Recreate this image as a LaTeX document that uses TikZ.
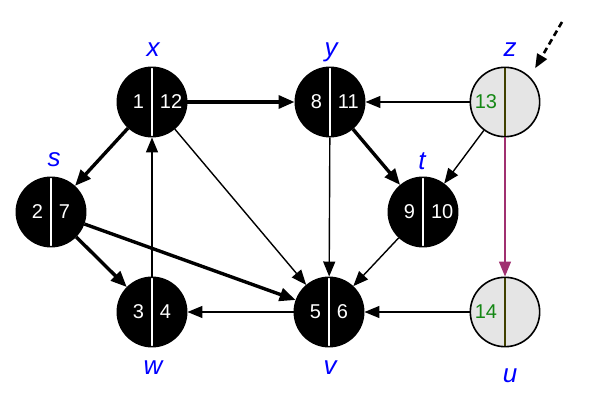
\documentclass[tikz,border=0pt]{standalone}
\usepackage{fontspec}
\setmainfont{Liberation Sans}
\usetikzlibrary{arrows.meta,positioning}
\definecolor{edgeplum}{RGB}{160,48,112}
\definecolor{numgreen}{RGB}{20,135,20}
\definecolor{splitolive}{RGB}{64,64,0}
\newcommand{\nums}[2]{\raisebox{-2.5pt}{\makebox[26pt][r]{#1}\hspace{16pt}\makebox[26pt][l]{#2}}}
\tikzset{
  vtx/.style={circle, draw=black, fill=black, line width=1.6pt, minimum size=67pt,
    inner sep=0pt, text=white, font=\fontsize{20}{20}\selectfont,
    path picture={\draw[white, line width=1.8pt] (path picture bounding box.north) -- (path picture bounding box.south);}},
  open/.style={vtx, fill=black!10, text=numgreen,
    path picture={\draw[splitolive, line width=1.8pt] (path picture bounding box.north) -- (path picture bounding box.south);}},
  lbl/.style={inner sep=0pt, anchor=base, text=blue,
    font=\fontsize{26}{26}\selectfont\itshape},
  fine/.style={-{Triangle[length=15pt,width=12pt]}, line width=1.4pt},
  heavy/.style={-{Triangle[length=16pt,width=13pt]}, line width=3.4pt},
}
\begin{document}
\begin{tikzpicture}[x=1pt, y=-1pt]
  \useasboundingbox (0,0) rectangle (616,403);
  % vertices
  \node[vtx]  (x) at (152,102) {\nums{1}{12}};
  \node[vtx]  (y) at (330,102) {\nums{8}{11}};
  \node[open] (z) at (505,102) {\nums{13}{}};
  \node[vtx]  (s) at (51,212)  {\nums{2}{7}};
  \node[vtx]  (t) at (423,212) {\nums{9}{10}};
  \node[vtx]  (w) at (152,312) {\nums{3}{4}};
  \node[vtx]  (v) at (329,312) {\nums{5}{6}};
  \node[open] (u) at (505,312) {\nums{14}{}};
  % names
  \node[lbl] (x-l) at (153,57)  {x};
  \node[lbl] (y-l) at (331,57)  {y};
  \node[lbl] (z-l) at (510,57)  {z};
  \node[lbl] (s-l) at (54,167)  {s};
  \node[lbl] (t-l) at (422,170) {t};
  \node[lbl] (w-l) at (153,374) {w};
  \node[lbl] (v-l) at (330,374) {v};
  \node[lbl] (u-l) at (510,382) {u};
  % tree edges
  \draw[heavy] (x) to (y);
  \draw[heavy] (x) to (s);
  \draw[heavy] (s) to (w);
  \draw[heavy] (s) to (v);
  \draw[heavy] (y) to (t);
  % other edges
  \draw[fine] (x) to (v);
  \draw[fine] (w) to (x);
  \draw[fine] (y) to (v);
  \draw[fine] (z) to (y);
  \draw[fine] (z) to (t);
  \draw[fine] (t) to (v);
  \draw[fine] (v) to (w);
  \draw[fine] (u) to (v);
  \draw[fine, edgeplum] (z) to (u);
  % entry
  \coordinate (z-in) at (562,22);
  \draw[-{Triangle[length=14pt,width=11pt]}, line width=2.6pt, dash pattern=on 6pt off 4pt,
    shorten >=10pt] (z-in) to (z.north east);
\end{tikzpicture}
\end{document}
